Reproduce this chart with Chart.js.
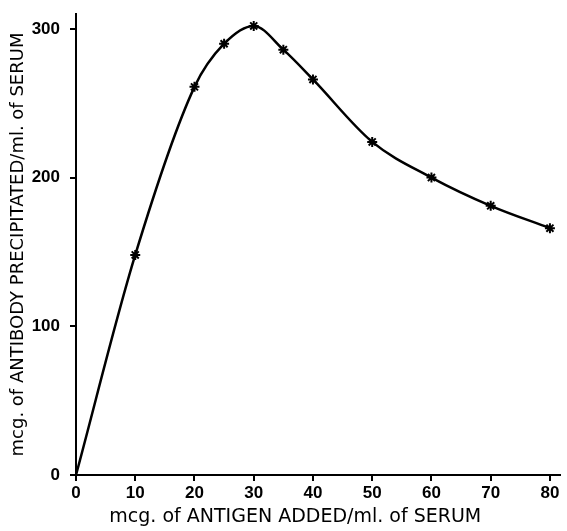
<!DOCTYPE html>
<html>
<head>
<meta charset="utf-8">
<script src="https://cdn.jsdelivr.net/npm/chart.js@4/dist/chart.umd.min.js"></script>
<style>
  html, body { margin: 0; padding: 0; background: #fff; }
  #wrap { width: 567px; height: 531px; }
</style>
</head>
<body>
<div id="wrap"><canvas id="chart"></canvas></div>
<script>
// antigen added (mcg/ml) vs antibody precipitated (mcg/ml)
const antigen = [0, 10, 20, 25, 30, 35, 40, 50, 60, 70, 80];
const antibody = [0, 148, 261, 290, 302, 286, 266, 224, 200, 181, 166];
const xTicks = [0, 10, 20, 30, 40, 50, 60, 70, 80];
const yTicks = [0, 100, 200, 300];
const xTitle = "mcg. of ANTIGEN ADDED/ml. of SERUM";
const yTitle = "mcg. of ANTIBODY PRECIPITATED/ml. of SERUM";

const points = antigen.map((x, i) => ({ x, y: antibody[i] }));
const tickFont = "'Liberation Sans', Arial, sans-serif";
const titleFont = "'DejaVu Sans', sans-serif";

// x title sits a bit left of the axis centre in the original
const xTitlePlugin = {
  id: "xTitle",
  afterDraw(chart) {
    const { ctx, scales } = chart;
    const sx = scales.x;
    ctx.save();
    ctx.fillStyle = "#000";
    ctx.font = "19px " + titleFont;
    ctx.textAlign = "center";
    ctx.textBaseline = "middle";
    ctx.fillText(xTitle, sx.left + sx.width * 0.453, chart.height - 14);
    ctx.restore();
  },
};

new Chart(document.getElementById("chart"), {
  type: "line",
  data: {
    datasets: [
      {
        data: points,
        borderColor: "#000",
        borderWidth: 2.5,
        cubicInterpolationMode: "monotone",
        pointStyle: "star",
        pointRadius: (ctx) => (ctx.dataIndex === 0 ? 0 : 5),
        pointBorderWidth: 2,
        pointBorderColor: "#000",
        pointBackgroundColor: "#000",
      },
    ],
  },
  plugins: [xTitlePlugin],
  options: {
    responsive: true,
    maintainAspectRatio: false,
    animation: false,
    layout: { padding: { top: 14, right: 5, left: 0, bottom: 0 } },
    plugins: { legend: { display: false }, tooltip: { enabled: false } },
    scales: {
      x: {
        type: "linear",
        min: 0,
        max: 81.7,
        afterBuildTicks: (axis) => {
          axis.ticks = xTicks.map((v) => ({ value: v }));
        },
        afterFit: (scale) => {
          scale.height = 56;
        },
        border: { display: true, color: "#000", width: 2 },
        grid: { drawOnChartArea: false, drawTicks: true, tickLength: 6, color: "#000", lineWidth: 2 },
        ticks: { color: "#000", padding: 2, font: { family: tickFont, size: 17, weight: "bold" } },
        title: { display: false },
      },
      y: {
        type: "linear",
        min: 0,
        max: 310,
        afterBuildTicks: (axis) => {
          axis.ticks = yTicks.map((v) => ({ value: v }));
        },
        afterFit: (scale) => {
          scale.width = 76;
          scale.paddingTop = 0;
        },
        border: { display: true, color: "#000", width: 2 },
        grid: { drawOnChartArea: false, drawTicks: true, tickLength: 6, color: "#000", lineWidth: 2 },
        ticks: { color: "#000", padding: 10, font: { family: tickFont, size: 17, weight: "bold" } },
        title: {
          display: true,
          text: yTitle,
          color: "#000",
          padding: { top: 8, bottom: 0 },
          font: { family: titleFont, size: 18 },
        },
      },
    },
  },
});
</script>
</body>
</html>
